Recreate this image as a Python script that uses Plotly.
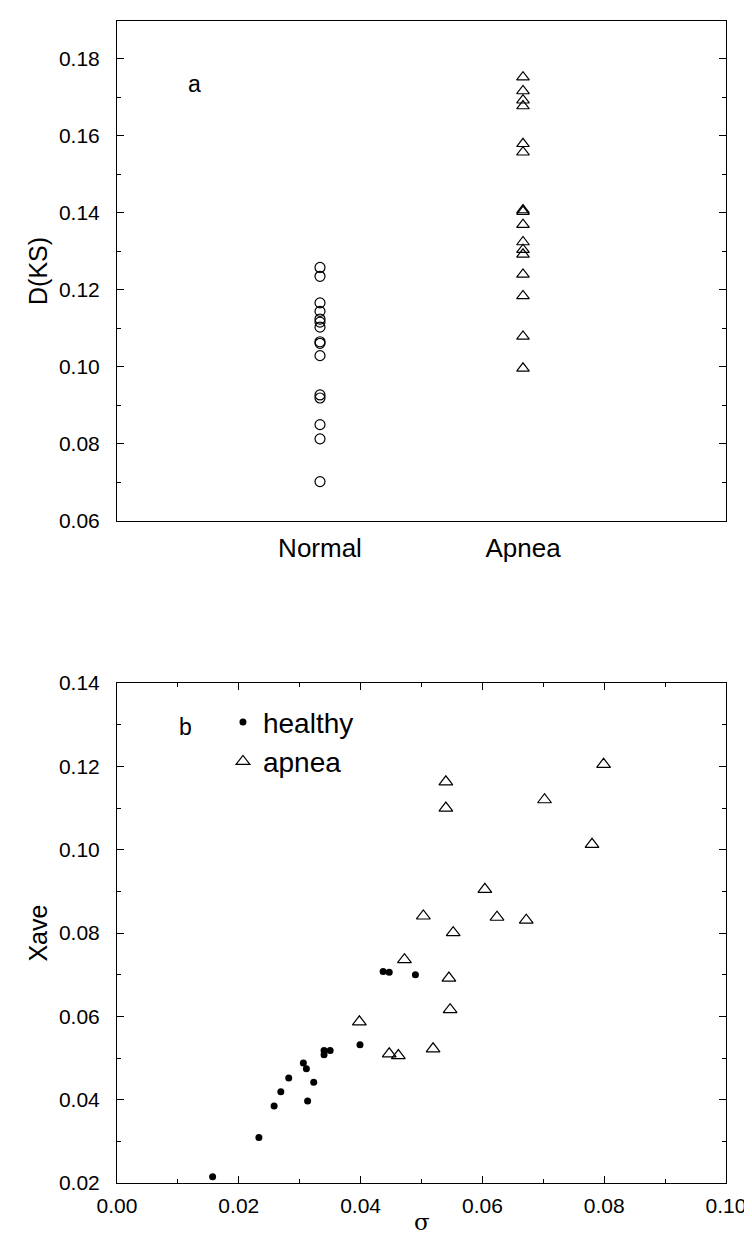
import plotly.graph_objects as go

# ---- panel a data ----
categories = ["Normal", "Apnea"]
normal_dks = [0.1258, 0.1235, 0.1166, 0.1144, 0.1124, 0.1116, 0.1103, 0.1065, 0.1061,
              0.1029, 0.0927, 0.0919, 0.0850, 0.0813, 0.0702]
apnea_dks = [0.1752, 0.1716, 0.1692, 0.1677, 0.1579, 0.1557, 0.1407, 0.1403, 0.1369,
             0.1324, 0.1304, 0.1292, 0.1240, 0.1184, 0.1079, 0.0996]

# ---- panel b data ----
healthy_sigma = [0.0157, 0.0233, 0.0258, 0.0269, 0.0282, 0.0306, 0.0311, 0.0323, 0.0313,
                 0.0340, 0.0340, 0.0350, 0.0399, 0.0437, 0.0447, 0.0490]
healthy_xave = [0.0215, 0.0309, 0.0385, 0.0419, 0.0452, 0.0488, 0.0474, 0.0442, 0.0397,
                0.0508, 0.0518, 0.0518, 0.0532, 0.0708, 0.0706, 0.0700]
apnea_sigma = [0.0799, 0.0540, 0.0540, 0.0702, 0.0780, 0.0604, 0.0503, 0.0624, 0.0672,
               0.0552, 0.0472, 0.0545, 0.0547, 0.0398, 0.0447, 0.0462, 0.0519]
apnea_xave = [0.1205, 0.1163, 0.1100, 0.1120, 0.1013, 0.0905, 0.0841, 0.0838, 0.0831,
              0.0801, 0.0736, 0.0692, 0.0616, 0.0587, 0.0510, 0.0506, 0.0522]

FONT = "Liberation Sans, Arial, Helvetica, sans-serif"

fig = go.Figure()

fig.add_trace(go.Scatter(
    x=[1] * len(normal_dks), y=normal_dks, mode="markers", showlegend=False,
    marker=dict(symbol="circle-open", size=10, color="black", line=dict(width=1.2)),
    xaxis="x", yaxis="y"))
fig.add_trace(go.Scatter(
    x=[2] * len(apnea_dks), y=apnea_dks, mode="markers", showlegend=False,
    marker=dict(symbol="triangle-up-open", size=11, color="black", line=dict(width=1.2)),
    xaxis="x", yaxis="y"))

fig.add_trace(go.Scatter(
    x=healthy_sigma, y=healthy_xave, mode="markers", name="healthy",
    marker=dict(symbol="circle", size=7, color="black"),
    xaxis="x2", yaxis="y2"))
fig.add_trace(go.Scatter(
    x=apnea_sigma, y=apnea_xave, mode="markers", name="apnea",
    marker=dict(symbol="triangle-up-open", size=12, color="black", line=dict(width=1.2)),
    xaxis="x2", yaxis="y2"))

axis_common = dict(showline=True, linecolor="black", linewidth=1, mirror="ticks",
                   showgrid=False, zeroline=False, ticks="inside", tickcolor="black",
                   ticklen=7, tickwidth=1,
                   tickfont=dict(family=FONT, size=21, color="black"))

# The page body adds an 8px margin, so the figure is sized to fit the window.
fig.update_layout(
    width=744, height=1229,
    margin=dict(l=109, r=26, t=1, b=54),
    paper_bgcolor="white", plot_bgcolor="white",
    font=dict(family=FONT, color="black"),
    xaxis=dict(domain=[0, 1], range=[0, 3], anchor="y",
               tickmode="array", tickvals=[1, 2], ticktext=categories,
               showline=True, linecolor="black", linewidth=1, mirror=True,
               showgrid=False, zeroline=False, ticks="", ticklabelstandoff=4,
               tickfont=dict(family=FONT, size=26, color="black")),
    yaxis=dict(domain=[0.5698, 1.0], range=[0.06, 0.18977], anchor="x",
               tickmode="linear", tick0=0.06, dtick=0.02, tickformat=".2f",
               ticklabelstandoff=12,
               minor=dict(dtick=0.01, ticks="inside", ticklen=4, tickcolor="black"),
               title=dict(text="D(KS)", font=dict(family=FONT, size=25), standoff=4),
               **axis_common),
    xaxis2=dict(domain=[0, 1], range=[0, 0.1], anchor="y2",
                tickmode="linear", tick0=0, dtick=0.02, tickformat=".2f",
                ticklabelstandoff=4,
                minor=dict(dtick=0.01, ticks="inside", ticklen=4, tickcolor="black"),
                **axis_common),
    yaxis2=dict(domain=[0, 0.4302], range=[0.02, 0.14], anchor="x2",
                tickmode="linear", tick0=0.02, dtick=0.02, tickformat=".2f",
                ticklabelstandoff=12,
                minor=dict(dtick=0.01, ticks="inside", ticklen=4, tickcolor="black"),
                title=dict(text="Xave", font=dict(family=FONT, size=25), standoff=4),
                **axis_common),
    legend=dict(x=0.174, y=0.418, xanchor="left", yanchor="top",
                bgcolor="rgba(0,0,0,0)", borderwidth=0,
                font=dict(family=FONT, size=28, color="black"),
                itemwidth=30, tracegroupgap=0),
    annotations=[
        dict(text="a", x=0.1133, y=0.959, xref="paper", yref="paper",
             showarrow=False, font=dict(family=FONT, size=23, color="black")),
        dict(text="b", x=0.0985, y=0.3927, xref="paper", yref="paper",
             showarrow=False, font=dict(family=FONT, size=23, color="black")),
        dict(text="σ", x=0.5, y=-0.0332, xref="paper", yref="paper",
             xanchor="center", yanchor="middle", borderpad=0,
             showarrow=False, font=dict(family="DejaVu Serif, serif", size=23, color="black")),
    ],
)

fig.write_html("out.html")
